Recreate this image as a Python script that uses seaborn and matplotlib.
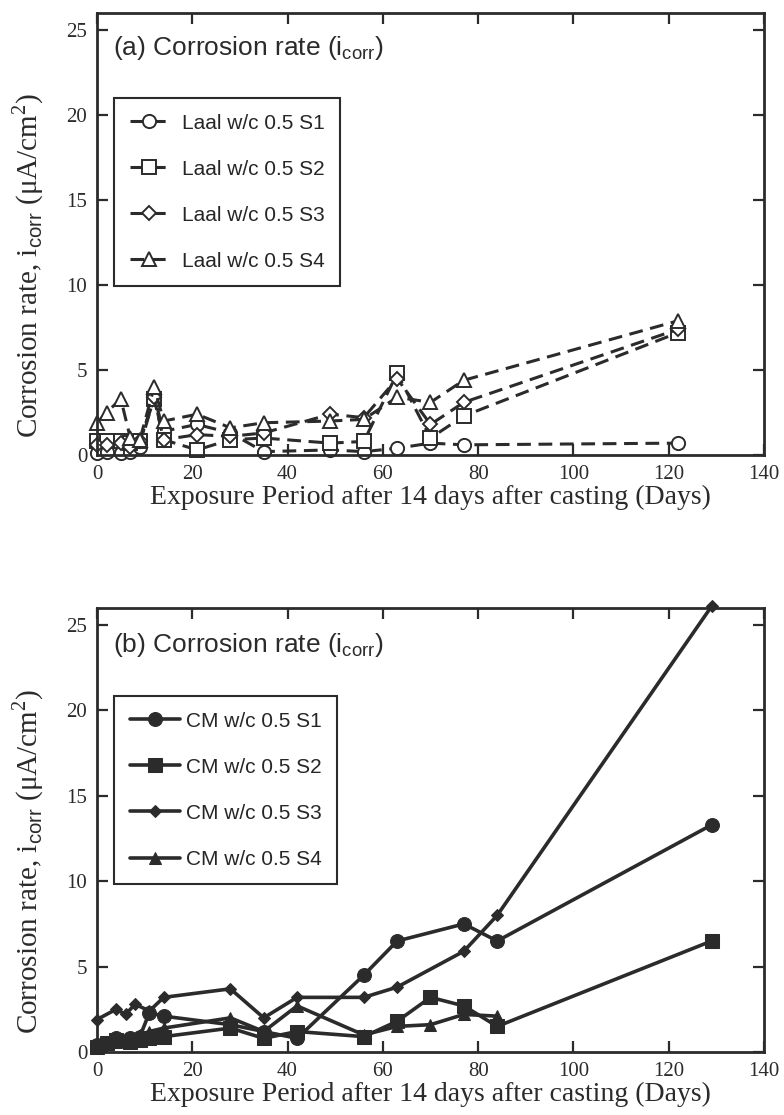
import matplotlib
matplotlib.use("Agg")
import matplotlib.pyplot as plt
import seaborn as sns
import pandas as pd

# =========================
# Data
# =========================
days_a = [0, 2, 5, 7, 9, 12, 14, 21, 28, 35, 49, 56, 63, 70, 77, 122]
laal_s1 = [0.1, 0.2, 0.1, 0.2, 0.5, 3.4, 1.4, 1.8, 1.3, 0.2, 0.3, 0.2, 0.4, 0.7, 0.6, 0.7]
laal_s2 = [0.8, 0.8, 0.8, 0.7, 0.8, 3.3, 0.9, 0.3, 0.9, 1.0, 0.7, 0.8, 4.8, 1.0, 2.3, 7.2]
laal_s3 = [0.6, 0.6, 0.7, 0.5, 0.8, 3.4, 0.9, 1.2, 1.1, 1.3, 2.4, 2.2, 4.5, 1.8, 3.1, 7.4]
laal_s4 = [1.9, 2.5, 3.3, 1.0, 0.9, 4.0, 2.0, 2.4, 1.6, 1.9, 2.0, 2.1, 3.4, 3.1, 4.4, 7.9]

days_cm1 = [0, 2, 4, 7, 9, 11, 14, 28, 35, 42, 56, 63, 77, 84, 129]
cm_s1 = [0.4, 0.5, 0.8, 0.8, 0.9, 2.3, 2.1, 1.6, 1.2, 0.8, 4.5, 6.5, 7.5, 6.5, 13.3]
days_cm2 = [0, 2, 4, 7, 9, 11, 14, 28, 35, 42, 56, 63, 70, 77, 84, 129]
cm_s2 = [0.3, 0.5, 0.7, 0.6, 0.7, 0.8, 0.9, 1.4, 0.8, 1.2, 0.9, 1.8, 3.2, 2.7, 1.5, 6.5]
days_cm3 = [0, 4, 6, 8, 11, 14, 28, 35, 42, 56, 63, 77, 84, 129]
cm_s3 = [1.9, 2.5, 2.2, 2.8, 2.4, 3.2, 3.7, 2.0, 3.2, 3.2, 3.8, 5.9, 8.0, 26.1]
days_cm4 = [0, 2, 4, 7, 9, 11, 14, 28, 35, 42, 56, 63, 70, 77, 84]
cm_s4 = [0.3, 0.5, 0.6, 0.8, 1.0, 1.2, 1.4, 2.0, 1.2, 2.7, 1.0, 1.5, 1.6, 2.2, 2.1]

labels_a = ["Laal w/c 0.5 S1", "Laal w/c 0.5 S2", "Laal w/c 0.5 S3", "Laal w/c 0.5 S4"]
labels_b = ["CM w/c 0.5 S1", "CM w/c 0.5 S2", "CM w/c 0.5 S3", "CM w/c 0.5 S4"]

# =========================
# Style
# =========================
sns.set_style("ticks")
plt.rcParams["font.family"] = ["Liberation Serif", "DejaVu Serif"]
plt.rcParams["mathtext.fontset"] = "custom"
plt.rcParams["mathtext.rm"] = "Liberation Serif"
plt.rcParams["mathtext.sf"] = "Liberation Sans"

ink = "#2b2b2b"
sans = ["Liberation Sans", "DejaVu Sans"]

fig = plt.figure(figsize=(7.84, 11.15), dpi=100)
ax_a = fig.add_axes([0.1237, 0.5919, 0.8508, 0.3964])
ax_b = fig.add_axes([0.1237, 0.0565, 0.8508, 0.3982])


def style_axis(ax):
    ax.set_xlim(0, 140)
    ax.set_ylim(0, 26)
    ax.set_xticks(range(0, 141, 20))
    ax.set_yticks(range(0, 26, 5))
    ax.tick_params(direction="in", length=8, width=1.6, colors=ink,
                   labelsize=15, top=True, right=True, pad=7)
    for s in ax.spines.values():
        s.set_linewidth(2)
        s.set_color(ink)
    ax.set_xlabel("Exposure Period after 14 days after casting (Days)",
                  fontsize=20, color=ink, labelpad=1)
    ax.set_ylabel("Corrosion rate, i$_{\\mathsf{corr}}$ (μA/cm$^{2}$)",
                  fontsize=21, color=ink)
    ax.yaxis.set_label_coords(-0.077, 0.43)


# =========================
# (a) Laal
# =========================
markers_a = ["o", "s", "D", "^"]
sizes_a = [9.5, 9.5, 7, 9.5]
for ys, lab, m, ms in zip([laal_s1, laal_s2, laal_s3, laal_s4], labels_a, markers_a, sizes_a):
    df = pd.DataFrame({"day": days_a, "icorr": ys})
    sns.lineplot(data=df, x="day", y="icorr", ax=ax_a, color=ink, errorbar=None,
                 linestyle=(0, (4.5, 2.5)), linewidth=2.2, marker=m, markersize=ms,
                 markerfacecolor="white", markeredgecolor=ink, markeredgewidth=1.4,
                 label=lab, clip_on=False)

style_axis(ax_a)
ax_a.text(0.024, 0.921, "(a) Corrosion rate (i$_{\\mathsf{corr}}$)", transform=ax_a.transAxes,
          fontsize=19, family=sans, color=ink, va="center", ha="left")
leg = ax_a.legend(loc="upper left", bbox_to_anchor=(0.0255, 0.808), borderaxespad=0,
                  prop={"family": sans, "size": 15}, labelspacing=1.3, borderpad=0.75,
                  handlelength=1.9, handletextpad=0.6, fancybox=False, framealpha=1,
                  edgecolor=ink)
leg.get_frame().set_linewidth(1.5)

# =========================
# (b) CM
# =========================
markers_b = ["o", "s", "D", "^"]
sizes_b = [10, 10, 6.5, 8]
series_b = [(days_cm1, cm_s1), (days_cm2, cm_s2), (days_cm3, cm_s3), (days_cm4, cm_s4)]
for (xs, ys), lab, m, ms in zip(series_b, labels_b, markers_b, sizes_b):
    df = pd.DataFrame({"day": xs, "icorr": ys})
    sns.lineplot(data=df, x="day", y="icorr", ax=ax_b, color=ink, errorbar=None,
                 linewidth=2.6, marker=m, markersize=ms, markerfacecolor=ink,
                 markeredgecolor=ink, label=lab, clip_on=False)

style_axis(ax_b)
ax_b.text(0.024, 0.917, "(b) Corrosion rate (i$_{\\mathsf{corr}}$)", transform=ax_b.transAxes,
          fontsize=19, family=sans, color=ink, va="center", ha="left")
leg = ax_b.legend(loc="upper left", bbox_to_anchor=(0.0255, 0.802), borderaxespad=0,
                  prop={"family": sans, "size": 15}, labelspacing=1.3, borderpad=0.75,
                  handlelength=2.4, handletextpad=0.3, fancybox=False, framealpha=1,
                  edgecolor=ink)
leg.get_frame().set_linewidth(1.5)

fig.savefig("out.png", dpi=100)
